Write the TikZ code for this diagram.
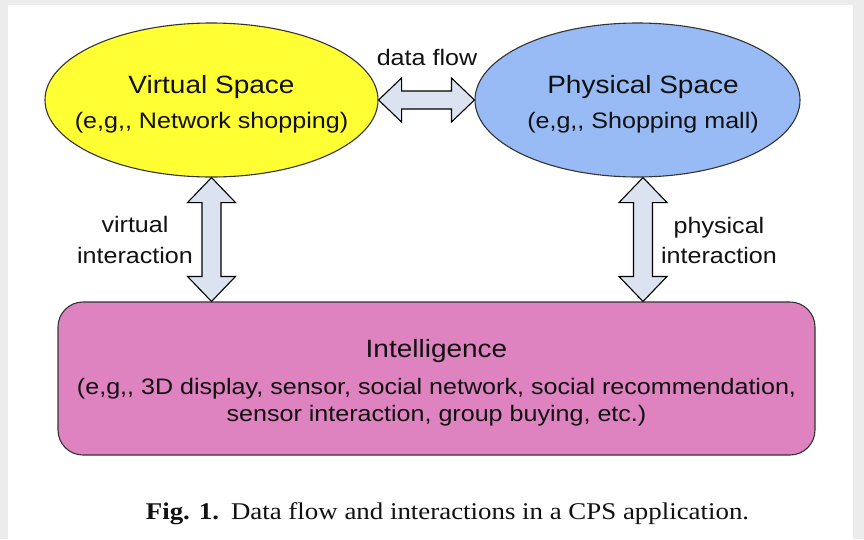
\documentclass[tikz,border=0pt]{standalone}
\usepackage{fontspec}
\setmainfont{Liberation Sans}
\newfontfamily\sansw[FakeStretch=1.12]{Liberation Sans}
\newfontfamily\capserif[FakeStretch=1.12]{Liberation Serif}
\usetikzlibrary{calc,shapes.geometric}
\definecolor{bggrey}{HTML}{ECECEC}
\definecolor{vyellow}{HTML}{FFFF33}
\definecolor{pblue}{HTML}{99BBF5}
\definecolor{imag}{HTML}{DE82C0}
\definecolor{arrfill}{HTML}{DCE3F0}
\definecolor{edgegrey}{HTML}{333333}
\definecolor{txt}{HTML}{111111}
% #1 from, #2 to, #3 head length, #4 head half width, #5 shaft half width
\newcommand\fatarrow[5]{%
  \draw[fatarr] (#1)
    -- ($(#1)!#3!(#2)!#4!90:(#2)$) -- ($(#1)!#3!(#2)!#5!90:(#2)$)
    -- ($(#2)!#3!(#1)!#5!-90:(#1)$) -- ($(#2)!#3!(#1)!#4!-90:(#1)$)
    -- (#2)
    -- ($(#2)!#3!(#1)!#4!90:(#1)$) -- ($(#2)!#3!(#1)!#5!90:(#1)$)
    -- ($(#1)!#3!(#2)!#5!-90:(#2)$) -- ($(#1)!#3!(#2)!#4!-90:(#2)$)
    -- cycle;}
\begin{document}
\begin{tikzpicture}[x=1pt,y=-1pt,
  ell/.style={ellipse, draw=edgegrey, line width=1.1pt, minimum height=154pt, inner sep=0pt},
  titletext/.style={font=\sansw\fontsize{25}{30}\selectfont, text=txt, anchor=base, inner sep=0pt},
  subtext/.style={font=\sansw\fontsize{22.4}{27}\selectfont, text=txt, anchor=base, inner sep=0pt},
  captext/.style={font=\capserif\fontsize{24}{28}\selectfont, text=txt, anchor=base, inner sep=0pt},
  fatarr/.style={draw=black, fill=arrfill, line width=1.1pt, line join=miter}]
\fill[bggrey] (0,0) rectangle (864,539);
\fill[white] (8,5) rectangle (853,539);
\useasboundingbox (0,0) rectangle (864,539);

\node[ell, fill=vyellow, minimum width=333pt] (vs) at (211.5,100) {};
\node[ell, fill=pblue, minimum width=325pt] (ps) at (637.5,100) {};
\node[draw=edgegrey, line width=1.1pt, rounded corners=25pt, fill=imag,
      minimum width=757pt, minimum height=153pt, inner sep=0pt] (intel) at (436.5,378.5) {};

\node[titletext] (vst) at (211.5,93) {Virtual Space};
\node[subtext] (vss) at (211.5,128) {(e,g,, Network shopping)};
\node[titletext] (pst) at (643,93) {Physical Space};
\node[subtext] (pss) at (643,128) {(e,g,, Shopping mall)};
\node[titletext] (it) at (436.5,357) {Intelligence};
\node[subtext] (il1) at (436.5,394) {(e,g,, 3D display, sensor, social network, social recommendation,};
\node[subtext] (il2) at (436.5,421) {sensor interaction, group buying, etc.)};

\node[subtext] (df) at (427,65) {data flow};
\node[subtext] (vl1) at (135,232) {virtual};
\node[subtext] (vl2) at (135,263) {interaction};
\node[subtext] (pl1) at (719,233) {physical};
\node[subtext] (pl2) at (719,263) {interaction};

\coordinate (lb) at (vs.south |- intel.north);
\coordinate (rt) at ($(ps.south)+(5.5,0)$);
\coordinate (rb) at (rt |- intel.north);
\fatarrow{vs.east}{ps.west}{23pt}{22pt}{9pt}
\fatarrow{vs.south}{lb}{25pt}{24pt}{9.5pt}
\fatarrow{rt}{rb}{25pt}{24pt}{9.5pt}

\node[captext] (cap) at (447.5,519) {\textbf{Fig. 1.}\hspace{12pt}Data flow and interactions in a CPS application.};
\end{tikzpicture}
\end{document}
